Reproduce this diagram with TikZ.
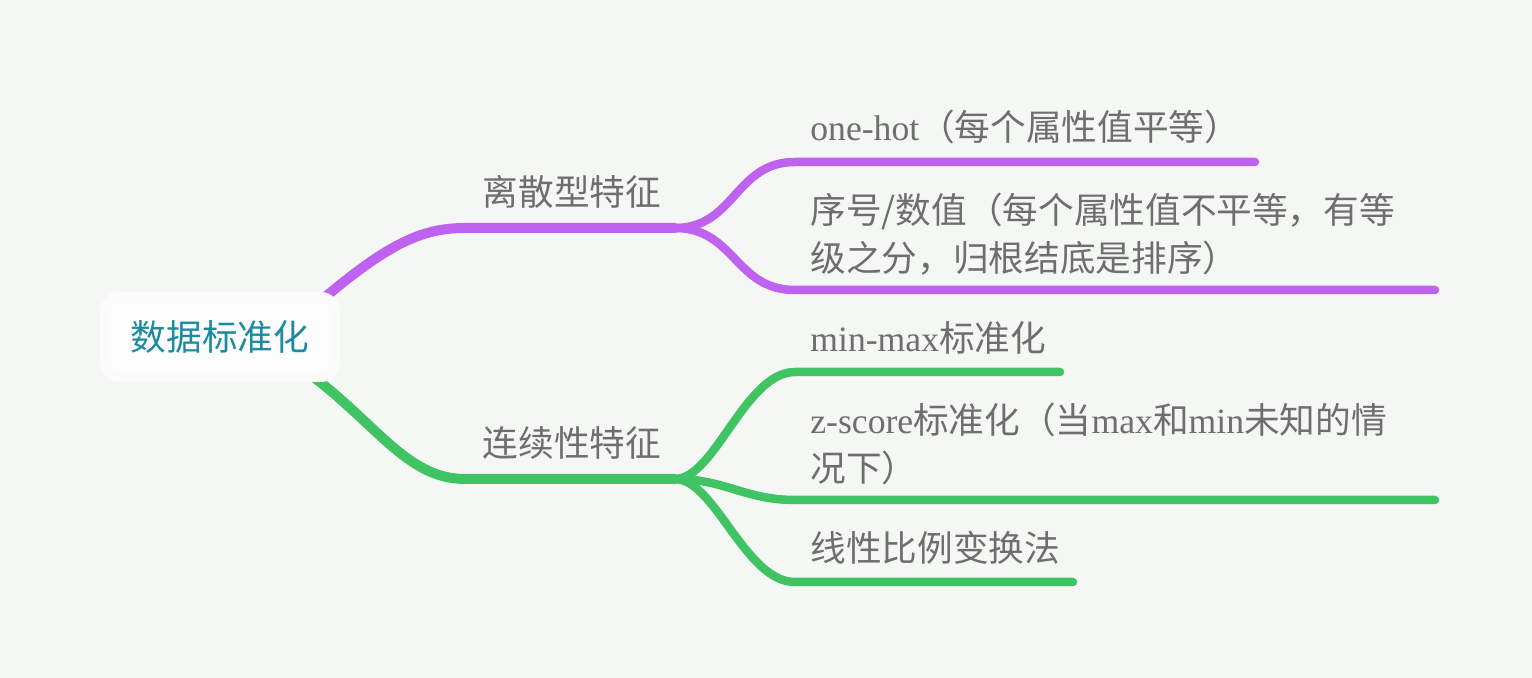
\documentclass[tikz,border=0pt]{standalone}
\usepackage{fontspec}
\setmainfont{Liberation Serif}
\newfontfamily\cjk{Noto Sans CJK SC}
\usetikzlibrary{backgrounds}
\definecolor{viola}{HTML}{C062F0}
\definecolor{verde}{HTML}{40C463}
\definecolor{grigio}{HTML}{6E6E6E}
\definecolor{sfondo}{HTML}{F5F7F5}
\definecolor{petrolio}{HTML}{1A8BA0}
\begin{document}
\begin{tikzpicture}[x=0.02cm, y=-0.02cm,
  ramo/.style={line width=0.2cm, line cap=round},
  foglia/.style={line width=0.17cm, line cap=round},
  testo/.style={text=grigio, inner sep=0pt, font=\fontsize{20.3}{27.3}\selectfont}]
\useasboundingbox (0,0) rectangle (1532,678);

% Nodo centrale
\node[fill=white!60!sfondo!50!white, draw=white!55!sfondo, line width=0.2cm, rounded corners=0.28cm,
  minimum width=4.6cm, minimum height=1.6cm, text=petrolio,
  font=\fontsize{20.3}{24}\selectfont] (radice) at (220,337) {\cjk 数据标准化};

% Rami principali
\node[testo] (discreto) at (572,192) {\cjk 离散型特征};
\node[testo] (continuo) at (572,443) {\cjk 连续性特征};
\coordinate (d) at (675,228);
\coordinate (c) at (675,479);

% Foglie del ramo viola
\node[testo, anchor=west] (onehot) at (810,127) {one-hot{\cjk （每个属性值平等）}};
\node[testo, anchor=west, align=left] (ordinale) at (810,234)
  {{\cjk 序号/数值（每个属性值不平等，有等}\\{\cjk 级之分，归根结底是排序）}};
\coordinate (onehot-fine) at (1255,162);
\coordinate (ordinale-fine) at (1435,290);

% Foglie del ramo verde
\node[testo, anchor=west] (minmax) at (810,338) {min-max{\cjk 标准化}};
\node[testo, anchor=west, align=left] (zscore) at (810,444)
  {z-score{\cjk 标准化（当}max{\cjk 和}min{\cjk 未知的情}\\{\cjk 况下）}};
\node[testo, anchor=west] (lineare) at (810,548) {\cjk 线性比例变换法};
\coordinate (minmax-fine) at (1060,372);
\coordinate (zscore-fine) at (1435,500);
\coordinate (lineare-fine) at (1073,582);

% Tutte le linee sotto i nodi
\begin{scope}[on background layer]
\fill[sfondo] (0,0) rectangle (1532,678);
% viola
\draw[ramo, viola] ([shift={(-30,18)}]radice.north east) .. controls (385,245) and (420,228) .. (465,228) -- (d);
\draw[foglia, viola] (d) .. controls +(60,0) and +(-60,0) .. (795,162) -- (onehot-fine);
\draw[foglia, viola] (d) .. controls +(60,0) and +(-60,0) .. (795,290) -- (ordinale-fine);
% verde
\draw[ramo, verde] ([shift={(-40,-15)}]radice.south east) .. controls (375,420) and (405,479) .. (465,479) -- (c);
\draw[foglia, verde] (c) .. controls +(40,0) and +(-50,0) .. (795,372) -- (minmax-fine);
\draw[foglia, verde] (c) .. controls +(50,0) and +(-50,0) .. (795,500) -- (zscore-fine);
\draw[foglia, verde] (c) .. controls +(40,0) and +(-50,0) .. (795,582) -- (lineare-fine);
\end{scope}
\end{tikzpicture}
\end{document}
